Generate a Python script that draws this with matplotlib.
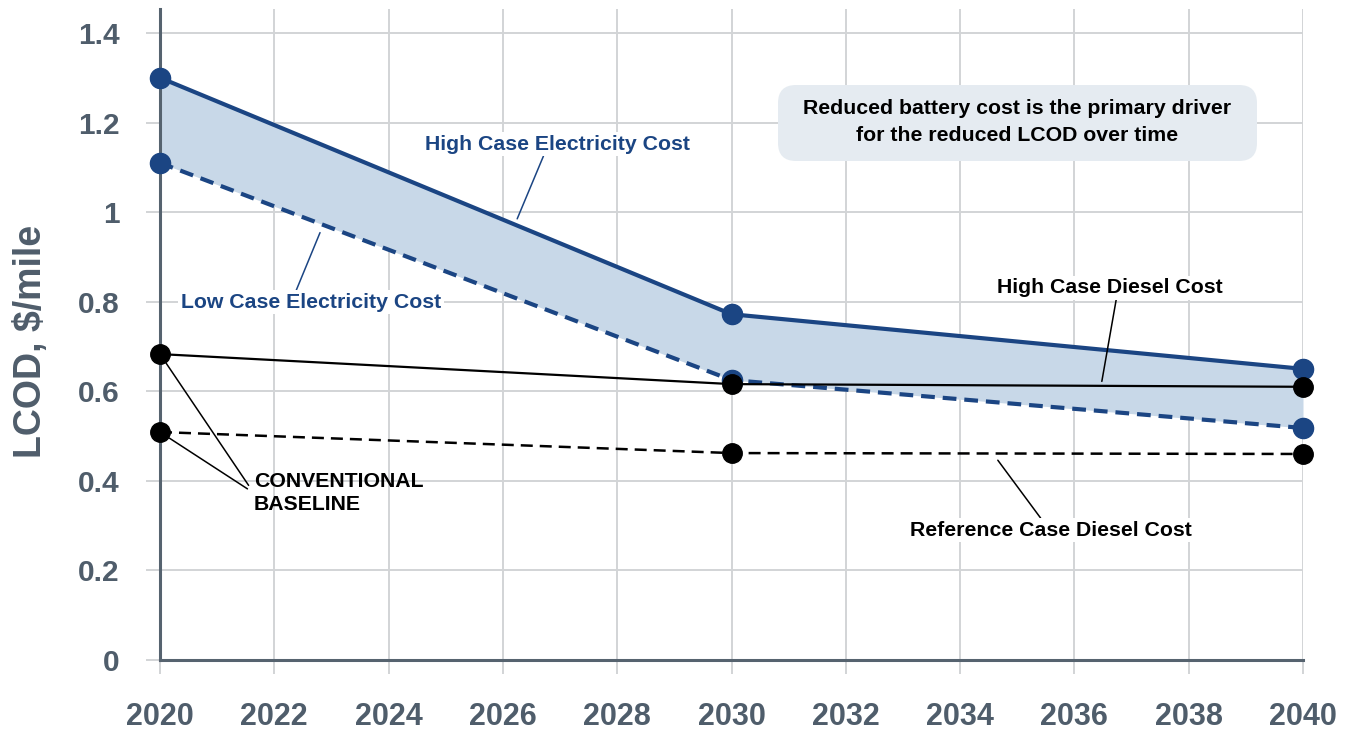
import matplotlib
matplotlib.use('Agg')
import matplotlib.pyplot as plt
import numpy as np
from matplotlib.patches import FancyBboxPatch

# ---- data ----
years = [2020, 2030, 2040]
high_elec = [1.30, 0.772, 0.65]
low_elec = [1.11, 0.625, 0.518]
high_diesel = [0.683, 0.616, 0.61]
ref_diesel = [0.509, 0.462, 0.46]
x_ticks = list(range(2020, 2041, 2))
y_ticks = [0, 0.2, 0.4, 0.6, 0.8, 1.0, 1.2, 1.4]
y_tick_labels = ['0', '0.2', '0.4', '0.6', '0.8', '1', '1.2', '1.4']

plt.rcParams['font.family'] = ['Liberation Sans', 'DejaVu Sans']

W, H = 1353, 734
fig = plt.figure(figsize=(W / 100, H / 100), dpi=100)
ax = fig.add_axes([160 / W, 74 / H, 1143 / W, (660 - 9) / H])

NAVY = '#1b4583'
FILL = '#c8d8e8'
GRAY = '#4f5d6b'
GRID = '#d2d4d6'

ax.set_xlim(2020, 2040)
ax.set_ylim(0, 1.4535)

# grid
ax.set_xticks(x_ticks)
ax.set_yticks(y_ticks)
ax.set_yticklabels(y_tick_labels)
ax.grid(True, color=GRID, linewidth=1.4, zorder=0)
ax.set_axisbelow(True)

for s in ['top', 'right']:
    ax.spines[s].set_visible(False)
for s in ['left', 'bottom']:
    ax.spines[s].set_color('#56636f')
    ax.spines[s].set_linewidth(2.2)

ax.tick_params(axis='both', direction='out', length=10, width=1.4, color=GRID,
               labelcolor=GRAY)
ax.tick_params(axis='x', pad=20, labelsize=22)
ax.tick_params(axis='y', pad=19, labelsize=21.5)
for lab in ax.get_xticklabels() + ax.get_yticklabels():
    lab.set_fontweight('bold')

# band
ax.fill_between(years, low_elec, high_elec, color=FILL, zorder=1, linewidth=0)

# lines
ax.plot(years, high_elec, color=NAVY, lw=3, marker='o', ms=14.5, zorder=3, clip_on=False)
l_low, = ax.plot(years, low_elec, color=NAVY, lw=3, marker='o', ms=14.5, zorder=3,
                 clip_on=False, linestyle='--')
l_low.set_dashes((3.3, 1.9))
ax.plot(years, high_diesel, color='black', lw=1.6, marker='o', ms=14, zorder=4, clip_on=False)
l_ref, = ax.plot(years, ref_diesel, color='black', lw=1.8, marker='o', ms=14, zorder=4,
                 clip_on=False, linestyle='--')
l_ref.set_dashes((4.8, 2.8))

# annotations
fs = 15.3
wb = dict(boxstyle='square,pad=0.12', fc='white', ec='none')

x = 2026.25
ax.annotate('High Case Electricity Cost', xy=(x, np.interp(x, years, high_elec) + 0.015),
            xytext=(2026.96, 1.152), ha='center', va='center', color=NAVY,
            fontsize=fs, fontweight='bold', bbox=wb, zorder=6,
            arrowprops=dict(arrowstyle='-', color=NAVY, lw=1.1, relpos=(0.45, 0),
                            shrinkA=0, shrinkB=0))

x = 2022.8
ax.annotate('Low Case Electricity Cost', xy=(x, np.interp(x, years, low_elec) - 0.02),
            xytext=(2022.64, 0.799), ha='center', va='center', color=NAVY,
            fontsize=fs, fontweight='bold', bbox=wb, zorder=6,
            arrowprops=dict(arrowstyle='-', color=NAVY, lw=1.1, relpos=(0.44, 1),
                            shrinkA=0, shrinkB=0))

x = 2036.48
ax.annotate('High Case Diesel Cost', xy=(x, np.interp(x, years, high_diesel) + 0.01),
            xytext=(2036.62, 0.831), ha='center', va='center', color='black',
            fontsize=fs, fontweight='bold', bbox=wb, zorder=6,
            arrowprops=dict(arrowstyle='-', color='black', lw=1.1, relpos=(0.53, 0),
                            shrinkA=0, shrinkB=0))

x = 2034.66
ax.annotate('Reference Case Diesel Cost', xy=(x, np.interp(x, years, ref_diesel) - 0.015),
            xytext=(2035.59, 0.290), ha='center', va='center', color='black',
            fontsize=fs, fontweight='bold', bbox=wb, zorder=6,
            arrowprops=dict(arrowstyle='-', color='black', lw=1.1, relpos=(0.47, 1),
                            shrinkA=0, shrinkB=0))

for i, yv in enumerate((high_diesel[0], ref_diesel[0])):
    ax.annotate('CONVENTIONAL\nBASELINE', xy=(years[0], yv),
                xytext=(2021.64, 0.373), ha='left', va='center',
                color='black' if i == 0 else 'none',
                fontsize=fs, fontweight='bold', linespacing=1.3, zorder=6,
                arrowprops=dict(arrowstyle='-', color='black', lw=1.1, relpos=(0, 0.5),
                                shrinkA=3, shrinkB=8))

# callout box
box = FancyBboxPatch((7.78, (H - 161) / 100), 4.79, 0.76,
                     boxstyle='round,pad=0,rounding_size=0.18',
                     transform=fig.dpi_scale_trans, fc='#e5ebf1', ec='none', zorder=5)
fig.patches.append(box)
fig.text(1017 / W, 1 - 122 / H,
         'Reduced battery cost is the primary driver\nfor the reduced LCOD over time',
         ha='center', va='center', fontsize=fs, fontweight='bold', color='black',
         linespacing=1.55, zorder=6)

# y label
fig.text(31 / W, 1 - 341 / H, 'LCOD, \\$/mile', rotation=90, ha='center', va='center',
         fontsize=27, fontweight='bold', color=GRAY)

fig.savefig('out.png', dpi=100)
